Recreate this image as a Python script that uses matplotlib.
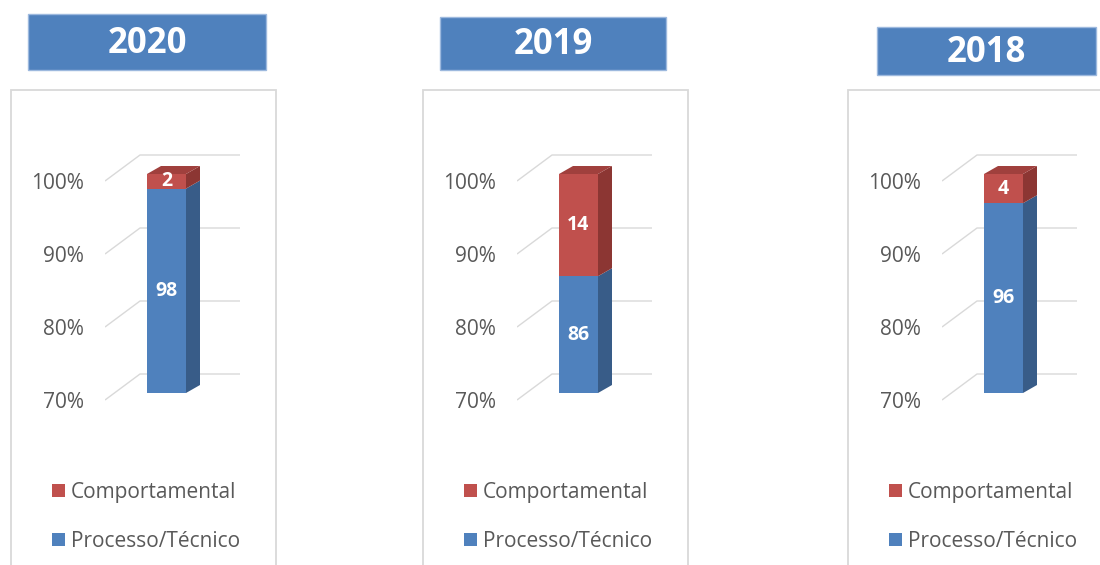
import matplotlib
matplotlib.use('Agg')
import matplotlib.pyplot as plt
import matplotlib.transforms as mtransforms
from matplotlib.patches import Rectangle, Polygon, Patch

plt.rcParams['font.family'] = ['Open Sans', 'DejaVu Sans']

# Share of occurrences per year (%)
years = ['2020', '2019', '2018']
processo = [98, 86, 96]
comportamental = [2, 14, 4]
series_labels = ['Comportamental', 'Processo/Técnico']
yticks = [70, 80, 90, 100]

BLUE = '#4F81BD'
BLUE_SIDE = '#385C88'
RED = '#C0504D'
RED_SIDE = '#8C3633'
RED_TOP = '#A0403D'
GRID = '#D9D9D9'
TEXT = '#595959'

W, H = 1100, 565
fig = plt.figure(figsize=(W / 100, H / 100), dpi=100)


def fx(px):
    return px / W


def fy(py):
    return 1 - py / H


# layout of the three panels (pixels, measured from top-left)
panel_left = [11, 423, 848]
panel_w = 265
panel_top = 90
title_boxes = [(28, 14, 238, 56), (440, 17, 226, 53), (877, 27, 219, 48)]

Y_MIN = 70
PX_PER_PCT = 7.3
Y_PX_MIN = 400      # pixel row of the 70% gridline (front end)
AX_TOP, AX_BOT = 120, 450
AX_OFF, AX_W = 94, 140
GRID_DX, GRID_DY = 35, 26 / PX_PER_PCT
BAR_X, BAR_W = 42, 39
DEPTH_X, DEPTH_Y = 14, 8 / PX_PER_PCT

for i, year in enumerate(years):
    pl = panel_left[i]

    # panel frame
    fig.add_artist(Rectangle((fx(pl), fy(H + 10)), fx(panel_w), (H + 10 - panel_top) / H,
                             transform=fig.transFigure, fill=False,
                             edgecolor=GRID, linewidth=1.3))

    # title box
    tx, ty, tw, th = title_boxes[i]
    fig.add_artist(Rectangle((fx(tx), fy(ty + th)), fx(tw), th / H,
                             transform=fig.transFigure, facecolor=BLUE,
                             edgecolor='#9DB9DE', linewidth=1))
    fig.text(fx(tx + tw / 2), fy(ty + th / 2 + 2), year, color='white',
             fontsize=25, fontweight='bold', ha='center', va='center')

    # chart area
    ax = fig.add_axes([fx(pl + AX_OFF), fy(AX_BOT), fx(AX_W), (AX_BOT - AX_TOP) / H])
    ax.set_xlim(0, AX_W)
    ax.set_ylim(Y_MIN - (AX_BOT - Y_PX_MIN) / PX_PER_PCT,
                Y_MIN + (Y_PX_MIN - AX_TOP) / PX_PER_PCT)
    for s in ax.spines.values():
        s.set_visible(False)
    ax.patch.set_visible(False)
    ax.set_xticks([])
    ax.set_yticks(yticks, labels=[f'{v}%' for v in yticks])
    ax.tick_params(axis='y', length=0, pad=15, labelsize=15, labelcolor=TEXT)

    # perspective gridlines
    for v in yticks:
        ax.plot([0, GRID_DX, AX_W - 5], [v, v + GRID_DY, v + GRID_DY],
                color=GRID, linewidth=1, solid_capstyle='butt', zorder=1)

    # bars sit a little behind the front edge of the floor
    bar_tr = mtransforms.offset_copy(ax.transData, x=0, y=7, units='dots')

    p = processo[i]
    c = comportamental[i]
    top = p + c
    x0, x1 = BAR_X, BAR_X + BAR_W

    ax.bar([x0], [p - Y_MIN], bottom=Y_MIN, width=BAR_W, align='edge',
           color=BLUE, transform=bar_tr, zorder=3)
    ax.bar([x0], [c], bottom=p, width=BAR_W, align='edge',
           color=RED, transform=bar_tr, zorder=3)

    ax.add_patch(Polygon([(x1, Y_MIN), (x1 + DEPTH_X, Y_MIN + DEPTH_Y),
                          (x1 + DEPTH_X, p + DEPTH_Y), (x1, p)],
                         closed=True, facecolor=BLUE_SIDE, edgecolor='none',
                         transform=bar_tr, zorder=3))
    ax.add_patch(Polygon([(x1, p), (x1 + DEPTH_X, p + DEPTH_Y),
                          (x1 + DEPTH_X, top + DEPTH_Y), (x1, top)],
                         closed=True, facecolor=RED_SIDE, edgecolor='none',
                         transform=bar_tr, zorder=3))
    ax.add_patch(Polygon([(x0, top), (x0 + DEPTH_X, top + DEPTH_Y),
                          (x1 + DEPTH_X, top + DEPTH_Y), (x1, top)],
                         closed=True, facecolor=RED_TOP, edgecolor='none',
                         transform=bar_tr, zorder=3))

    ax.text(x0 + BAR_W / 2, (Y_MIN + p) / 2, str(p), transform=bar_tr,
            color='white', fontsize=14, fontweight='bold',
            ha='center', va='center', zorder=4)
    ax.text(x0 + BAR_W / 2, p + c / 2, str(c), transform=bar_tr,
            color='white', fontsize=14, fontweight='bold',
            ha='center', va='center', zorder=4)

    handles = [Patch(facecolor=RED), Patch(facecolor=BLUE)]
    ax.legend(handles, series_labels, loc='upper left',
              bbox_to_anchor=(fx(pl + 41), fy(482)), bbox_transform=fig.transFigure,
              frameon=False, fontsize=15, labelcolor=TEXT,
              handlelength=0.6, handleheight=0.6, handletextpad=0.3,
              labelspacing=1.35, borderpad=0, borderaxespad=0)

fig.savefig('out.png', dpi=100)
